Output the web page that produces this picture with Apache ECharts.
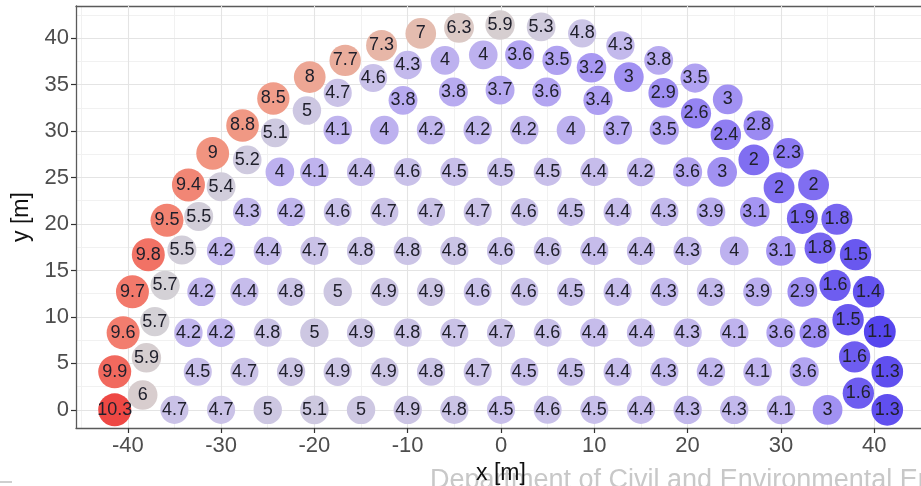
<!DOCTYPE html>
<html>
<head>
<meta charset="utf-8">
<script src="https://cdn.jsdelivr.net/npm/echarts@6/dist/echarts.min.js"></script>
<style>
  html, body { margin: 0; padding: 0; background: #ffffff; }
  #chart { width: 921px; height: 486px; }
</style>
</head>
<body>
<div id="chart"></div>
<script>
// Outer ring of measurement points (left to right along the arc)
const outerX = [-41.4, -41.4, -40.5, -39.5, -37.8, -35.8, -33.5, -30.9, -27.7, -24.4, -20.5, -16.7, -12.8, -8.6, -4.5, -0.1,
                4.3, 8.7, 12.8, 16.9, 20.8, 24.3, 27.6, 30.8, 33.5, 36.0, 38.0, 39.4, 40.6, 41.4, 41.4];
const outerY = [0, 4.1, 8.3, 12.7, 16.7, 20.4, 24.2, 27.6, 30.6, 33.5, 35.8, 37.6, 39.2, 40.5, 41.1, 41.4,
                41.2, 40.5, 39.2, 37.6, 35.7, 33.4, 30.6, 27.6, 24.2, 20.5, 16.7, 12.7, 8.4, 4.1, 0];
const outerV = [10.3, 9.9, 9.6, 9.7, 9.8, 9.5, 9.4, 9, 8.8, 8.5, 8, 7.7, 7.3, 7, 6.3, 5.9,
                5.3, 4.8, 4.3, 3.8, 3.5, 3, 2.8, 2.3, 2, 1.8, 1.5, 1.4, 1.1, 1.3, 1.3];

// Second ring, just inside the outer one
const innerX = [-38.4, -38.0, -37.1, -36.0, -34.2, -32.4, -30.0, -27.2, -24.2, -20.8, -17.5, -13.7, -10.0, -6.0, -1.9,
                2.0, 6.0, 9.7, 13.7, 17.4, 20.9, 24.1, 27.1, 29.8, 32.3, 34.2, 35.8, 37.2, 37.9, 38.3];
const innerY = [1.6, 5.6, 9.5, 13.4, 17.2, 20.8, 24.0, 26.9, 29.8, 32.2, 34.1, 35.7, 37.1, 37.6, 38.2,
                38.2, 37.6, 36.8, 35.8, 34.1, 31.9, 29.6, 26.9, 23.9, 20.6, 17.4, 13.4, 9.7, 5.7, 1.8];
const innerV = [6, 5.9, 5.7, 5.7, 5.5, 5.5, 5.4, 5.2, 5.1, 5, 4.7, 4.6, 4.3, 4, 4,
                3.6, 3.5, 3.2, 3, 2.9, 2.6, 2.4, 2, 2, 1.9, 1.8, 1.6, 1.5, 1.6, 1.6];

// Interior rows of the grid
const rowY = [0, 4.1, 8.3, 12.7, 17.1, 21.3, 25.6, 30.1];
const rowX = [
  [-35, -30, -25, -20, -15, -10, -5, 0, 5, 10, 15, 20, 25, 30, 35],
  [-32.5, -27.5, -22.5, -17.5, -12.5, -7.5, -2.5, 2.5, 7.5, 12.5, 17.5, 22.5, 27.5, 32.5],
  [-33.5, -30, -25, -20, -15, -10, -5, 0, 5, 10, 15, 20, 25, 30, 33.6],
  [-32.1, -27.5, -22.5, -17.5, -12.5, -7.5, -2.5, 2.5, 7.5, 12.5, 17.5, 22.5, 27.5, 32.3],
  [-30, -25, -20, -15, -10, -5, 0, 5, 10, 15, 20, 25, 30],
  [-27.2, -22.5, -17.5, -12.5, -7.5, -2.5, 2.5, 7.5, 12.5, 17.5, 22.5, 27.2],
  [-23.7, -20, -15, -10, -5, 0, 5, 10, 15, 20, 23.7],
  [-17.5, -12.5, -7.5, -2.5, 2.5, 7.5, 12.5, 17.5]
];
const rowV = [
  [4.7, 4.7, 5, 5.1, 5, 4.9, 4.8, 4.5, 4.6, 4.5, 4.4, 4.3, 4.3, 4.1, 3],
  [4.5, 4.7, 4.9, 4.9, 4.9, 4.8, 4.7, 4.5, 4.5, 4.4, 4.3, 4.2, 4.1, 3.6],
  [4.2, 4.2, 4.8, 5, 4.9, 4.8, 4.7, 4.7, 4.6, 4.4, 4.4, 4.3, 4.1, 3.6, 2.8],
  [4.2, 4.4, 4.8, 5, 4.9, 4.9, 4.6, 4.6, 4.5, 4.4, 4.3, 4.3, 3.9, 2.9],
  [4.2, 4.4, 4.7, 4.8, 4.8, 4.8, 4.6, 4.6, 4.4, 4.4, 4.3, 4, 3.1],
  [4.3, 4.2, 4.6, 4.7, 4.7, 4.7, 4.6, 4.5, 4.4, 4.3, 3.9, 3.1],
  [4, 4.1, 4.4, 4.6, 4.5, 4.5, 4.5, 4.4, 4.2, 3.6, 3],
  [4.1, 4, 4.2, 4.2, 4.2, 4, 3.7, 3.5]
];

// Short top row under the crown
const topX = [-10.5, -5.1, -0.1, 4.9, 10.4];
const topY = [33.3, 34.2, 34.4, 34.2, 33.3];
const topV = [3.8, 3.8, 3.7, 3.6, 3.4];

// Diverging palette, evenly spaced from 1.1 to 10.3: blue (low) -> grey (mid) -> red (high)
const palette = [
  '#5646ee', '#7260f0', '#8a78f2', '#9c8bf2', '#ae9ff2', '#bcb0ef', '#c9c0ea', '#cec9e0', '#d4d1d6',
  '#dbc9c6', '#e3bfb3', '#e8b4a4', '#eda694', '#f09c88', '#f1917d', '#f2786a', '#ee4844'
];

const points = [];
outerX.forEach((x, i) => points.push([x, outerY[i], outerV[i]]));
innerX.forEach((x, i) => points.push([x, innerY[i], innerV[i]]));
rowX.forEach((xs, r) => xs.forEach((x, i) => points.push([x, rowY[r], rowV[r][i]])));
topX.forEach((x, i) => points.push([x, topY[i], topV[i]]));

const FONT = '"Liberation Sans", Arial, sans-serif';
const chart = echarts.init(document.getElementById('chart'), null, { renderer: 'canvas' });

chart.setOption({
  backgroundColor: '#ffffff',
  animation: false,
  grid: { left: 76, top: 6, width: 850, height: 422, containLabel: false, outerBoundsMode: 'none' },
  visualMap: {
    show: false,
    type: 'continuous',
    dimension: 2,
    seriesIndex: 0,
    min: 1.1,
    max: 10.3,
    inRange: { color: palette }
  },
  xAxis: [
    {
      type: 'value',
      min: -45.55, max: 45.55,
      minInterval: 10, maxInterval: 10, splitNumber: 9,
      position: 'bottom',
      axisLine: { show: true, onZero: false, lineStyle: { color: '#5a5a5a', width: 1.3 } },
      axisTick: { show: true, length: 5, lineStyle: { color: '#333333', width: 1.2 } },
      axisLabel: { color: '#4d4d4d', fontSize: 22, fontFamily: FONT, margin: 7, showMinLabel: false, showMaxLabel: false },
      splitLine: { show: true, showMinLine: false, showMaxLine: false, lineStyle: { color: '#e4e4e4', width: 1.1 } },
      name: 'x [m]',
      nameLocation: 'middle',
      nameGap: 34,
      nameTextStyle: { color: '#111111', fontSize: 23, fontFamily: FONT }
    },
    {
      type: 'value',
      min: -45.55, max: 45.55,
      minInterval: 5, maxInterval: 5, splitNumber: 18,
      position: 'top',
      z: -1,
      axisLine: { show: true, onZero: false, lineStyle: { color: '#5a5a5a', width: 1.3 } },
      axisTick: { show: false },
      axisLabel: { show: false },
      splitLine: { show: true, showMinLine: false, showMaxLine: false, lineStyle: { color: '#f1f1f1', width: 1 } }
    }
  ],
  yAxis: [
    {
      type: 'value',
      min: -1.95, max: 43.45,
      minInterval: 5, maxInterval: 5, splitNumber: 9,
      position: 'left',
      axisLine: { show: true, onZero: false, lineStyle: { color: '#5a5a5a', width: 1.3 } },
      axisTick: { show: true, length: 5, lineStyle: { color: '#333333', width: 1.2 } },
      axisLabel: { color: '#4d4d4d', fontSize: 22, fontFamily: FONT, margin: 7, showMinLabel: false, showMaxLabel: false },
      splitLine: { show: true, showMinLine: false, showMaxLine: false, lineStyle: { color: '#e4e4e4', width: 1.1 } },
      name: 'y [m]',
      nameLocation: 'middle',
      nameGap: 34,
      nameRotate: 90,
      nameTextStyle: { color: '#111111', fontSize: 23, fontFamily: FONT }
    },
    {
      type: 'value',
      min: -1.95, max: 43.45,
      minInterval: 2.5, maxInterval: 2.5, splitNumber: 18,
      position: 'right',
      z: -1,
      axisLine: { show: false },
      axisTick: { show: false },
      axisLabel: { show: false },
      splitLine: { show: true, showMinLine: false, showMaxLine: false, lineStyle: { color: '#f1f1f1', width: 1 } }
    }
  ],
  series: [
    {
      type: 'scatter',
      xAxisIndex: 0,
      yAxisIndex: 0,
      data: points,
      symbol: 'circle',
      symbolSize: (val) => Math.min(33, 28 + 1.1 * Math.abs(val[2] - 4.6)),
      itemStyle: { opacity: 1 },
      label: {
        show: true,
        position: 'inside',
        formatter: (p) => String(p.value[2]),
        color: '#20202c',
        fontSize: 18,
        fontFamily: FONT
      },
      emphasis: { disabled: true },
      z: 3
    }
  ],
  graphic: [
    {
      type: 'text',
      left: 430,
      top: 467,
      z: -5,
      style: {
        text: 'Department of Civil and Environmental Engineering',
        font: '27px "Liberation Sans", Arial, sans-serif',
        fill: '#c8c8c8'
      }
    },
    {
      type: 'rect',
      left: 0,
      top: 481,
      z: -5,
      shape: { width: 12, height: 2 },
      style: { fill: '#cfcfcf' }
    }
  ]
});
</script>
</body>
</html>
